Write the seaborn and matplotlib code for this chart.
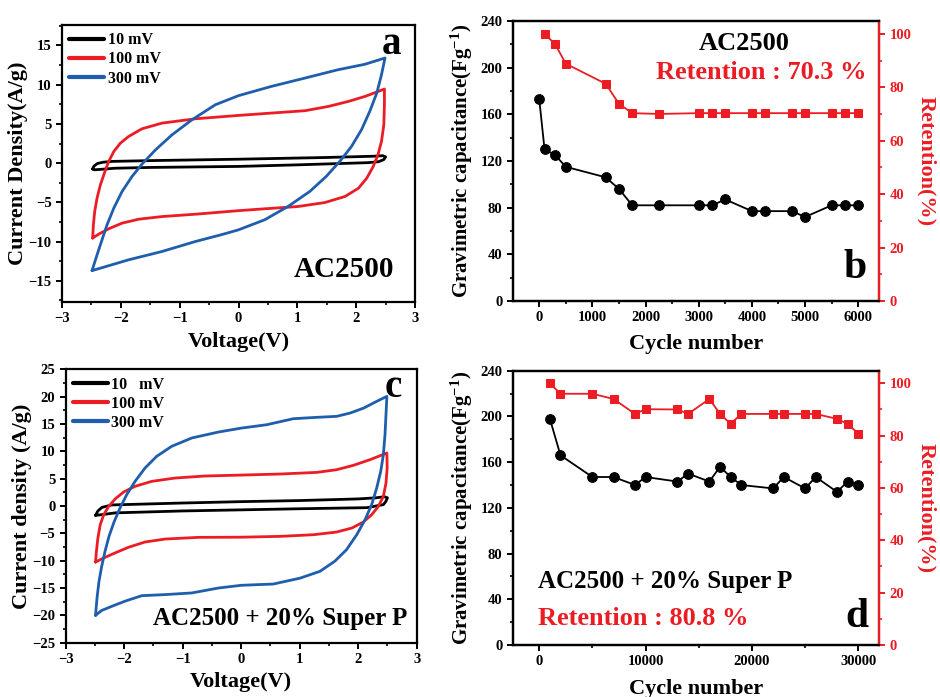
import matplotlib
matplotlib.use("Agg")
import matplotlib.pyplot as plt
import numpy as np
import pandas as pd
import seaborn as sns
from matplotlib.ticker import MultipleLocator

# ---------------- data ----------------
scan_rates_a = ["10 mV", "100 mV", "300 mV"]
scan_rates_c = ["10   mV", "100 mV", "300 mV"]

# AC2500 cyclic voltammetry loops (forward sweep then reverse sweep)
a10_v = [-2.48, -2.46, -2.40, -2.30, -2.15, -1.5, 0.0, 1.5, 2.30, 2.45, 2.50, 2.47, 2.38, 2.20, 1.0, 0.0, -1.5, -2.10, -2.35, -2.45, -2.48]
a10_i = [-0.74, -0.40, -0.05, 0.12, 0.22, 0.32, 0.50, 0.72, 0.88, 0.95, 0.80, 0.45, 0.18, 0.06, -0.22, -0.42, -0.55, -0.65, -0.80, -0.85, -0.74]

a100_v = [-2.48, -2.467, -2.445, -2.405, -2.348, -2.28, -2.207, -2.12, -2.008, -1.867, -1.64, -1.30, -0.734, 0.0,
          0.56, 1.13, 1.53, 1.87, 2.15, 2.48,
          2.48, 2.47, 2.43, 2.37, 2.29, 2.18, 2.04, 1.81, 1.47, 1.01, 0.445, 0.0,
          -0.734, -1.30, -1.70, -1.98, -2.207, -2.377, -2.48]
a100_i = [-9.55, -7.86, -6.17, -4.46, -2.76, -1.27, 0.21, 1.48, 2.55, 3.40, 4.38, 5.10, 5.65, 6.08,
          6.38, 6.68, 7.23, 7.87, 8.50, 9.44,
          7.44, 4.89, 2.76, 1.06, -0.43, -1.91, -3.19, -4.25, -5.02, -5.53, -5.82, -6.06,
          -6.51, -6.81, -7.15, -7.65, -8.37, -9.05, -9.55]

a300_v = [-2.49, -2.405, -2.32, -2.235, -2.12, -1.98, -1.81, -1.64, -1.41, -1.13, -0.79, -0.394, 0.0,
          0.56, 1.13, 1.69, 2.15, 2.49,
          2.43, 2.35, 2.23, 2.09, 1.92, 1.72, 1.49, 1.21, 0.84, 0.445, 0.0,
          -0.28, -0.734, -1.30, -1.867, -2.49]
a300_i = [-13.7, -11.69, -9.77, -7.86, -5.73, -3.62, -1.70, -0.12, 1.70, 3.61, 5.53, 7.44, 8.6,
          9.78, 10.84, 11.90, 12.60, 13.40,
          11.26, 8.93, 6.58, 4.25, 2.12, 0.21, -1.70, -3.62, -5.53, -7.22, -8.5,
          -9.1, -9.99, -11.26, -12.32, -13.7]

# AC2500 + 20% Super P cyclic voltammetry loops
c10_v = [-2.49, -2.45, -2.38, -2.21, -1.0, 0.0, 1.0, 2.0, 2.30, 2.45, 2.50, 2.47, 2.43, 2.15, 1.0, 0.0, -1.0, -2.15, -2.40, -2.49]
c10_i = [-1.7, -0.9, -0.25, 0.2, 0.55, 0.8, 1.0, 1.3, 1.5, 1.7, 1.5, 0.8, 0.25, -0.3, -0.5, -0.7, -0.9, -1.25, -1.6, -1.7]

c100_v = [-2.49, -2.475, -2.45, -2.41, -2.35, -2.265, -2.15, -2.01, -1.815, -1.53, -1.13, -0.62, 0.0,
          0.663, 1.29, 1.63, 1.917, 2.20, 2.49,
          2.495, 2.475, 2.43, 2.345, 2.23, 2.088, 1.89, 1.63, 1.234, 0.663, 0.0,
          -0.73, -1.30, -1.644, -1.93, -2.16, -2.35, -2.49]
c100_i = [-10.25, -8.29, -5.85, -3.42, -1.59, -0.06, 1.34, 2.56, 3.60, 4.51, 5.12, 5.49, 5.66,
          5.85, 6.15, 6.64, 7.44, 8.47, 9.69,
          6.95, 4.20, 1.76, -0.06, -1.59, -2.93, -4.03, -4.76, -5.25, -5.55, -5.7,
          -5.73, -6.04, -6.58, -7.56, -8.60, -9.50, -10.25]

c300_v = [-2.49, -2.465, -2.431, -2.385, -2.328, -2.26, -2.174, -2.072, -1.958, -1.815, -1.644, -1.445, -1.188,
          -0.846, -0.39, 0.0, 0.436, 0.891, 1.29, 1.63, 1.86, 2.09, 2.29, 2.49,
          2.475, 2.458, 2.43, 2.385, 2.316, 2.23, 2.117, 1.975, 1.80, 1.60, 1.345, 1.003, 0.548, 0.0,
          -0.39, -0.846, -1.30, -1.70, -1.985, -2.213, -2.385, -2.49]
c300_i = [-20.0, -16.83, -13.78, -11.04, -8.29, -5.55, -2.93, -0.37, 2.06, 4.50, 6.95, 9.09, 10.92,
          12.44, 13.53, 14.25, 14.87, 15.97, 16.22, 16.40, 17.0, 17.9, 19.0, 20.06,
          16.7, 13.04, 9.38, 6.34, 3.29, 0.24, -2.50, -5.25, -7.99, -10.1, -11.95, -13.2, -14.27, -14.5,
          -15.0, -15.9, -16.2, -16.4, -17.4, -18.35, -19.1, -20.0]

# AC2500 cycling (panel b)
b_cycles = [0, 100, 300, 500, 1250, 1500, 1750, 2250, 3000, 3250, 3500, 4000, 4250, 4750, 5000, 5500, 5750, 6000]
b_capacitance = [173, 130, 125, 115, 106, 96, 82, 82, 82, 82, 87, 77, 77, 77, 72, 82, 82, 82]
b_ret_cycles = [100, 300, 500, 1250, 1500, 1750, 2250, 3000, 3250, 3500, 4000, 4250, 4750, 5000, 5500, 5750, 6000]
b_retention = [100, 96.1, 88.8, 81.3, 73.8, 70.3, 70.0, 70.3, 70.3, 70.3, 70.3, 70.3, 70.3, 70.3, 70.3, 70.3, 70.3]

# AC2500 + 20% Super P cycling (panel d)
d_cycles = [1000, 2000, 5000, 7000, 9000, 10000, 13000, 14000, 16000, 17000, 18000, 19000, 22000, 23000, 25000, 26000, 28000, 29000, 30000]
d_capacitance = [198, 166, 147, 147, 140, 147, 143, 150, 143, 156, 147, 140, 137, 147, 137, 147, 134, 143, 140]
d_retention = [100, 96, 96, 94, 88.3, 90.1, 90, 88.3, 94, 88.3, 84.5, 88.3, 88.3, 88.3, 88.3, 88.3, 86.4, 84.5, 80.8]

# ---------------- style ----------------
sns.set_theme(style="ticks")
plt.rcParams['font.family'] = ['Liberation Serif', 'DejaVu Serif']
plt.rcParams['font.weight'] = 'bold'
plt.rcParams['axes.labelweight'] = 'bold'
plt.rcParams['text.color'] = 'black'
plt.rcParams['axes.labelcolor'] = 'black'
plt.rcParams['xtick.color'] = 'black'
plt.rcParams['ytick.color'] = 'black'
plt.rcParams['axes.edgecolor'] = 'black'
plt.rcParams['mathtext.fontset'] = 'custom'
plt.rcParams['mathtext.rm'] = 'Liberation Serif:bold'
plt.rcParams['mathtext.bf'] = 'Liberation Serif:bold'
plt.rcParams['mathtext.it'] = 'Liberation Serif:bold'

BLACK = '#000000'
RED = '#EC1C24'
BLUE = '#1F5DAD'
TICK_FS = 10.5
LABEL_FS = 16

fig = plt.figure(figsize=(9.4, 6.97), dpi=100)
ax_a = fig.add_axes([0.066, 0.5667, 0.3755, 0.3974])
ax_b = fig.add_axes([0.5457, 0.5682, 0.3894, 0.4017])
ax_c = fig.add_axes([0.0699, 0.0779, 0.3734, 0.3922])
ax_d = fig.add_axes([0.5457, 0.0746, 0.3894, 0.3935])


def style_axes(ax):
    for sp in ax.spines.values():
        sp.set_linewidth(1.6)
        sp.set_color('black')
    ax.tick_params(which='major', direction='out', length=4, width=1.4, labelsize=TICK_FS,
                   colors='black', top=False, right=False)
    ax.tick_params(which='minor', direction='out', length=2.5, width=1.2, colors='black',
                   top=False, right=False)
    for lab in ax.get_xticklabels() + ax.get_yticklabels():
        lab.set_fontweight('bold')


def cv_frame(labels, loops):
    rows = []
    for lab, (v, i) in zip(labels, loops):
        for k, (vv, ii) in enumerate(zip(v, i)):
            rows.append({'rate': lab, 'order': k, 'V': vv, 'I': ii})
    return pd.DataFrame(rows)


def draw_cv(ax, labels, loops, ylim, ymajor, yminor, ylabel, xpad):
    df = cv_frame(labels, loops)
    sns.lineplot(data=df, x='V', y='I', hue='rate', hue_order=labels,
                 palette=[BLACK, RED, BLUE], sort=False, estimator=None,
                 linewidth=2.0, ax=ax)
    ax.set_xlim(-3, 3)
    ax.set_ylim(*ylim)
    ax.xaxis.set_major_locator(MultipleLocator(1))
    ax.xaxis.set_minor_locator(MultipleLocator(0.5))
    ax.yaxis.set_major_locator(MultipleLocator(ymajor))
    ax.yaxis.set_minor_locator(MultipleLocator(yminor))
    ax.set_xlabel('Voltage(V)', fontsize=LABEL_FS, fontweight='bold', labelpad=xpad)
    ax.set_ylabel(ylabel, fontsize=LABEL_FS, fontweight='bold', labelpad=0)
    handles, labs = ax.get_legend_handles_labels()
    for h in handles:
        h.set_linewidth(3.0)
    ax.legend(handles, labs, loc='upper left', frameon=False,
              prop={'weight': 'bold', 'size': 11.5}, handlelength=2.2,
              handletextpad=0.2, labelspacing=0.2, borderaxespad=0.25,
              borderpad=0.2)
    style_axes(ax)


draw_cv(ax_a, scan_rates_a, [(a10_v, a10_i), (a100_v, a100_i), (a300_v, a300_i)],
        (-17.7, 17.6), 5, 2.5, 'Current Density(A/g)', 5)
ax_a.text(0.934, 0.93, 'a', transform=ax_a.transAxes, ha='center', va='center',
          fontsize=28, fontweight='bold')
ax_a.text(0.80, 0.116, 'AC2500', transform=ax_a.transAxes, ha='center', va='center',
          fontsize=21, fontweight='bold')

draw_cv(ax_c, scan_rates_c, [(c10_v, c10_i), (c100_v, c100_i), (c300_v, c300_i)],
        (-25, 25), 5, 2.5, 'Current density (A/g)', 4)
ax_c.text(0.932, 0.935, 'c', transform=ax_c.transAxes, ha='center', va='center',
          fontsize=28, fontweight='bold')
ax_c.text(0.611, 0.089, 'AC2500 + 20% Super P', transform=ax_c.transAxes, ha='center',
          va='center', fontsize=18, fontweight='bold')


def draw_cycling(ax, cyc, cap, ret_cyc, ret, xlim, xmajor, xminor, xpad):
    cap_df = pd.DataFrame({'cycle': cyc, 'cap': cap})
    ret_df = pd.DataFrame({'cycle': ret_cyc, 'ret': ret})
    sns.lineplot(data=cap_df, x='cycle', y='cap', color=BLACK, marker='o', markersize=7,
                 markeredgecolor=BLACK, linewidth=1.3, sort=False, estimator=None, ax=ax)
    ax.set_xlim(*xlim)
    ax.set_ylim(0, 240)
    ax.xaxis.set_major_locator(MultipleLocator(xmajor))
    ax.xaxis.set_minor_locator(MultipleLocator(xminor))
    ax.yaxis.set_major_locator(MultipleLocator(40))
    ax.yaxis.set_minor_locator(MultipleLocator(20))
    ax.set_xlabel('Cycle number', fontsize=LABEL_FS, fontweight='bold', labelpad=xpad)
    ax.set_ylabel(r'Gravimetric capacitance(Fg$^{-1}$)', fontsize=LABEL_FS - 1,
                  fontweight='bold', labelpad=4)
    style_axes(ax)

    ax2 = ax.twinx()
    sns.lineplot(data=ret_df, x='cycle', y='ret', color=RED, marker='s', markersize=5.8,
                 markeredgecolor=RED, linewidth=1.3, sort=False, estimator=None, ax=ax2)
    ax2.set_ylim(0, 104.8)
    ax2.set_xlim(*xlim)
    ax2.yaxis.set_major_locator(MultipleLocator(20))
    ax2.yaxis.set_minor_locator(MultipleLocator(10))
    ax2.set_ylabel('Retention(%)', color=RED, fontsize=LABEL_FS, fontweight='bold',
                   rotation=270, labelpad=18)
    for sp in ax2.spines.values():
        sp.set_linewidth(1.6)
    ax2.spines['right'].set_color(RED)
    ax2.spines['left'].set_color('black')
    ax2.spines['top'].set_color('black')
    ax2.spines['bottom'].set_color('black')
    ax2.tick_params(axis='y', which='major', direction='out', length=4, width=1.4,
                    colors=RED, labelsize=TICK_FS)
    ax2.tick_params(axis='y', which='minor', direction='out', length=2.5, width=1.2, colors=RED)
    for lab in ax2.get_yticklabels():
        lab.set_fontweight('bold')
    return ax2


ax_b2 = draw_cycling(ax_b, b_cycles, b_capacitance, b_ret_cycles, b_retention,
                     (-494, 6390), 1000, 500, 7)
ax_b.text(0.632, 0.92, 'AC2500', transform=ax_b.transAxes, ha='center', va='center',
          fontsize=19, fontweight='bold')
ax_b.text(0.678, 0.815, 'Retention : 70.3 %', transform=ax_b.transAxes, ha='center',
          va='center', fontsize=19, fontweight='bold', color=RED)
ax_b.text(0.934, 0.118, 'b', transform=ax_b.transAxes, ha='center', va='center',
          fontsize=30, fontweight='bold')

ax_d2 = draw_cycling(ax_d, d_cycles, d_capacitance, d_cycles, d_retention,
                     (-2470, 31950), 10000, 5000, 7.5)
ax_d.text(0.069, 0.231, 'AC2500 + 20% Super P', transform=ax_d.transAxes, ha='left',
          va='center', fontsize=18, fontweight='bold')
ax_d.text(0.069, 0.097, 'Retention : 80.8 %', transform=ax_d.transAxes, ha='left',
          va='center', fontsize=19, fontweight='bold', color=RED)
ax_d.text(0.939, 0.103, 'd', transform=ax_d.transAxes, ha='center', va='center',
          fontsize=30, fontweight='bold')

fig.savefig('out.png', dpi=100, facecolor='white')
